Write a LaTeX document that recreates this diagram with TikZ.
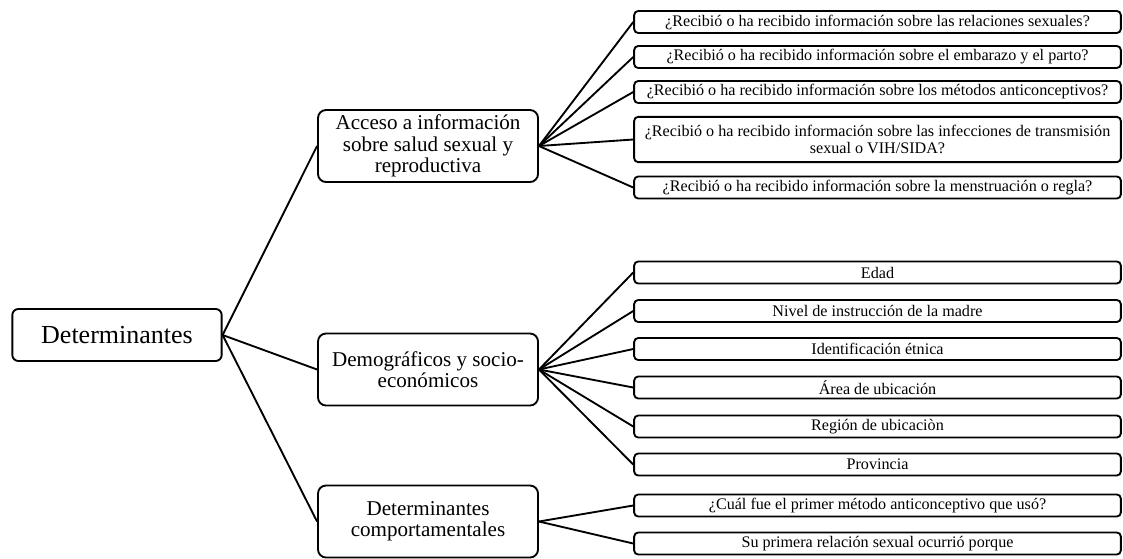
\documentclass[tikz,border=0pt]{standalone}
\usepackage{fontspec}
\setmainfont{Liberation Serif}
\usetikzlibrary{positioning}

\tikzset{
	raiz/.style={draw,line width=1.4pt,rounded corners=4.5pt,minimum width=157pt,minimum height=39pt,inner sep=0pt,font=\fontsize{19.5}{22}\selectfont},
	grupo/.style={draw,line width=1.4pt,rounded corners=6pt,minimum width=165pt,minimum height=54pt,inner sep=0pt,align=center,font=\fontsize{15.8}{16.1}\selectfont},
	hoja/.style={draw,line width=1.4pt,rounded corners=3pt,minimum width=365pt,minimum height=16.5pt,inner sep=0pt,align=center,font=\fontsize{12.1}{12.8}\selectfont},
	rama/.style={line width=1.4pt}
}

\begin{document}
\begin{tikzpicture}[x=0.75pt,y=-0.75pt]
		\useasboundingbox (0,0) rectangle (1123,558);
		\node[raiz] (det) at (117,335) {Determinantes};
		\node[grupo] (acc) at (428,146) {Acceso a información\\sobre salud sexual y\\reproductiva};
		\node[grupo] (dem) at (428,369.5) {Demográficos y socio-\\económicos};
		\node[grupo] (com) at (428,521.5) {Determinantes\\comportamentales};
		\foreach \g in{acc,dem,com}
		\draw[rama](det.east)--(\g.west);
		\node[hoja] (a1) at (877.5,22) {¿Recibió o ha recibido información sobre las relaciones sexuales?};
		\node[hoja] (a2) at (877.5,57) {¿Recibió o ha recibido información sobre el embarazo y el parto?};
		\node[hoja] (a3) at (877.5,92) {¿Recibió o ha recibido información sobre los métodos anticonceptivos?};
		\node[hoja,minimum height=34pt] (a4) at (877.5,139.5) {¿Recibió o ha recibido información sobre las infecciones de transmisión\\sexual o VIH/SIDA?};
		\node[hoja] (a5) at (877.5,187.5) {¿Recibió o ha recibido información sobre la menstruación o regla?};
		\foreach \h in{a1,a2,a3,a4,a5}
		\draw[rama](acc.east)--(\h.west);
		\node[hoja] (d1) at (877.5,272.5) {Edad};
		\node[hoja] (d2) at (877.5,311) {Nivel de instrucción de la madre};
		\node[hoja] (d3) at (877.5,349) {Identificación étnica};
		\node[hoja] (d4) at (877.5,387.5) {Área de ubicación};
		\node[hoja] (d5) at (877.5,426.5) {Región de ubicaciòn};
		\node[hoja] (d6) at (877.5,464.5) {Provincia};
		\foreach \h in{d1,d2,d3,d4,d5,d6}
		\draw[rama](dem.east)--(\h.west);
		\node[hoja] (c1) at (877.5,505.5) {¿Cuál fue el primer método anticonceptivo que usó?};
		\node[hoja] (c2) at (877.5,543.5) {Su primera relación sexual ocurrió porque};
		\foreach \h in{c1,c2}
		\draw[rama](com.east)--(\h.west);
	\end{tikzpicture}
\end{document}
